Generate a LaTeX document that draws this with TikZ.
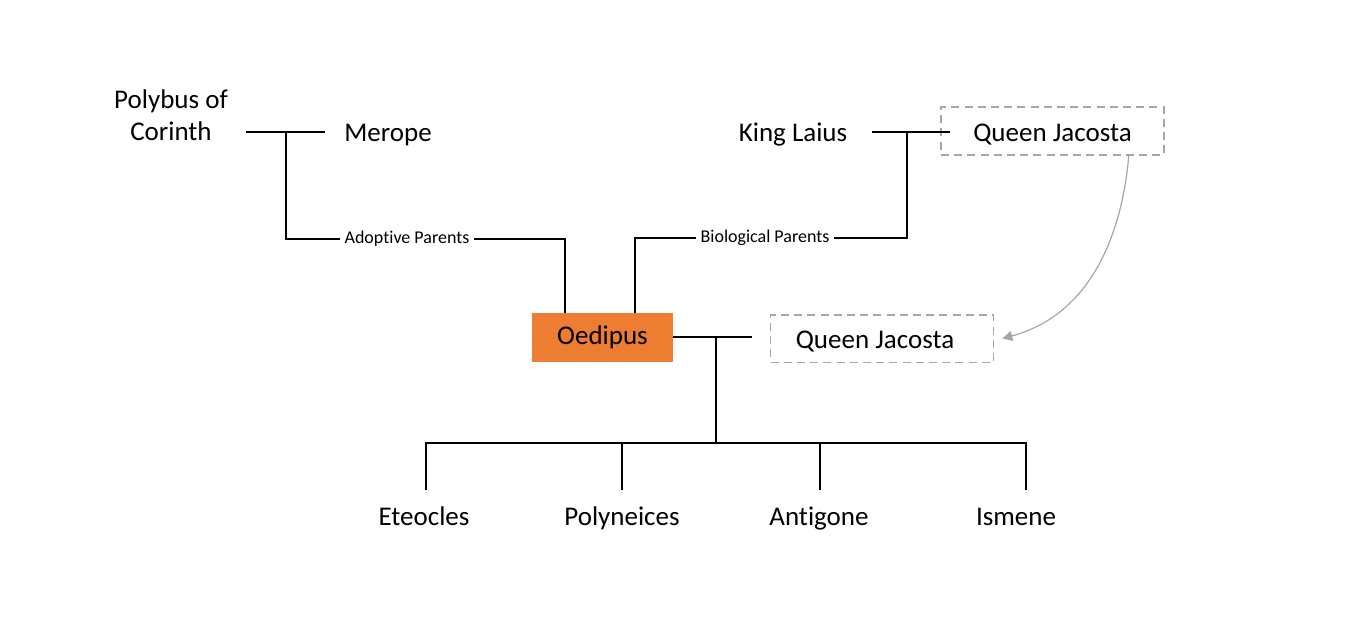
\documentclass[tikz,border=0pt]{standalone}
\usepackage{fontspec}
\setmainfont{Carlito}[Ligatures=NoCommon]
\usetikzlibrary{arrows.meta,positioning}
\definecolor{OedipusOrange}{RGB}{237,125,49}
\definecolor{SpouseGrey}{RGB}{166,166,166}

\begin{document}
\begin{tikzpicture}[
        x=0.5pt, y=-0.5pt,
        font=\fontsize{13.5}{16}\selectfont,
        person/.style={
            align=center,
            inner sep=2pt,
            text height=10pt,
            text depth=3pt
        },
        hero/.style={
            person,
            fill=OedipusOrange,
            minimum width=70.5pt,
            minimum height=24.5pt,
            inner sep=0pt
        },
        spouse/.style={
            person,
            draw=SpouseGrey,
            line width=0.8pt,
            dash pattern=on 4pt off 2.6pt,
            text height=11.5pt,
            text depth=1.5pt,
            minimum width=111.5pt,
            minimum height=23.8pt
        },
        tag/.style={
            font=\fontsize{9}{11}\selectfont,
            inner sep=2pt
        },
        link/.style={
            draw=black,
            line width=1.35pt
        },
        back/.style={
            -{Triangle[length=5pt,width=5pt]},
            draw=SpouseGrey,
            line width=0.6pt
        }
    ]

    \useasboundingbox (0,0) rectangle (1366,622);

    % Adoptive parents
    \node[person] (polybus) at (171,133) {Polybus of\\Corinth};
    \node[person] (merope) at (388,134) {Merope};
    \coordinate (adoptL) at (246,132);
    \coordinate (adoptR) at (325,132);
    \coordinate (adoptJ) at (286,132);
    \draw[link] (adoptL) -- (adoptR);

    % Biological parents
    \node[person] (laius) at (793,134) {King Laius};
    \node[spouse] (jacosta) at (1052.5,131) {Queen Jacosta};
    \coordinate (bioL) at (872,132);
    \coordinate (bioR) at (950,132);
    \coordinate (bioJ) at (907,132);
    \draw[link] (bioL) -- (bioR);

    % Oedipus and his wife
    \node[hero] (oedipus) at (602.5,337.5) {Oedipus};
    \node[spouse] (wife) at (882,338.5) {\hspace{-7pt}Queen Jacosta};
    \coordinate (wedR) at (752,337);
    \coordinate (wedJ) at (716,337);
    \coordinate (kidsJ) at (716,443);
    \draw[link] (oedipus.east |- wedR) -- (wedR);
    \draw[link] (wedJ) -- (kidsJ);

    \node[tag] (adoptTag) at (407,239) {Adoptive Parents};
    \node[tag] (bioTag) at (765,238) {Biological Parents};

    \draw[link] (adoptJ) |- (adoptTag.west);
    \draw[link] (adoptTag.east) -| ([xshift=-18.75pt]oedipus.north);
    \draw[link] (bioJ) |- (bioTag.east);
    \draw[link] (bioTag.west) -| ([xshift=16.25pt]oedipus.north);

    % Children
    \node[person] (eteocles) at (424,518) {Eteocles};
    \node[person] (polyneices) at (622,518) {Polyneices};
    \node[person] (antigone) at (819,518) {Antigone};
    \node[person] (ismene) at (1016,518) {Ismene};

    \foreach \kid/\dx in {eteocles/1pt, polyneices/0pt, antigone/0.5pt, ismene/5pt}
        \draw[link] ([xshift=\dx,yshift=5.5pt]\kid.north) |- (kidsJ);

    % Same woman
    \draw[back] ([xshift=-18pt]jacosta.south east) to[out=-95,in=15] ([xshift=4pt]wife.east);

\end{tikzpicture}
\end{document}
